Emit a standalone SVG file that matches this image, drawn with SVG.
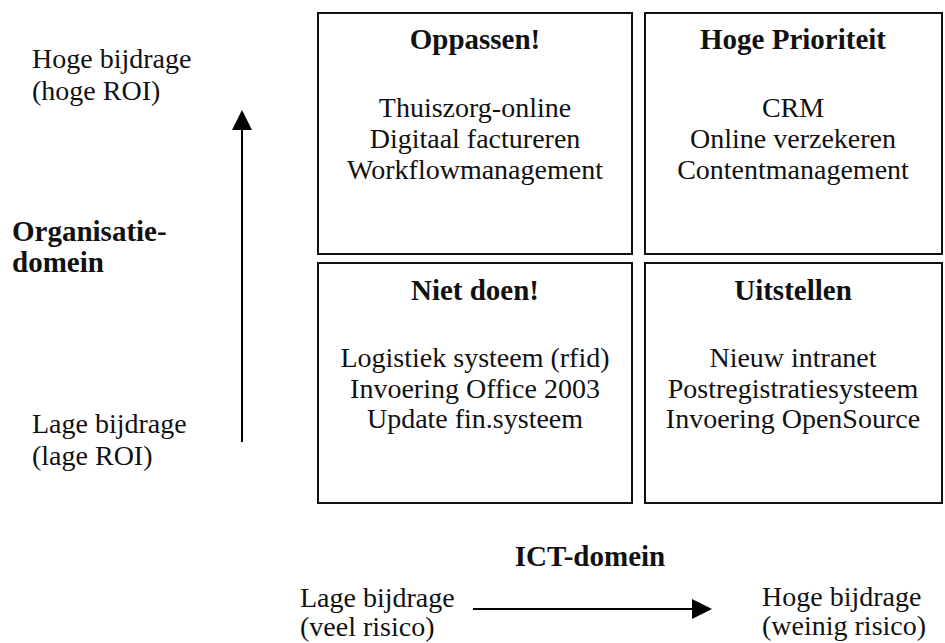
<svg xmlns="http://www.w3.org/2000/svg" width="945" height="643" viewBox="0 0 945 643">
<defs>
<style>
text{font-family:"Liberation Serif","Times New Roman",serif;font-size:28px;fill:#111}
.b{font-weight:bold;font-size:29px}
.c{text-anchor:middle}
.box{fill:#fff;stroke:#111;stroke-width:2}
.ln{stroke:#000;stroke-width:2;fill:none}
</style>
<marker id="ah" viewBox="0 0 20 20" refX="18" refY="10" markerWidth="20" markerHeight="20" markerUnits="userSpaceOnUse" orient="auto">
<path d="M0,0 L20,10 L0,20 Z" fill="#000"/>
</marker>
</defs>
<rect width="945" height="643" fill="#fff"/>
<g id="box-oppassen">
<rect class="box" x="318" y="13" width="314" height="241"/>
<text class="b c" x="475" y="49">Oppassen!</text>
<text class="c" x="475" y="117">Thuiszorg-online</text>
<text class="c" x="475" y="148">Digitaal factureren</text>
<text class="c" x="475" y="179">Workflowmanagement</text>
</g>
<g id="box-hoge-prioriteit">
<rect class="box" x="645" y="13" width="297" height="241"/>
<text class="b c" x="793" y="49">Hoge Prioriteit</text>
<text class="c" x="793" y="117">CRM</text>
<text class="c" x="793" y="148">Online verzekeren</text>
<text class="c" x="793" y="179">Contentmanagement</text>
</g>
<g id="box-niet-doen">
<rect class="box" x="318" y="263" width="314" height="240"/>
<text class="b c" x="475" y="300">Niet doen!</text>
<text class="c" x="475" y="367">Logistiek systeem (rfid)</text>
<text class="c" x="475" y="398">Invoering Office 2003</text>
<text class="c" x="475" y="428">Update fin.systeem</text>
</g>
<g id="box-uitstellen">
<rect class="box" x="645" y="263" width="297" height="240"/>
<text class="b c" x="793" y="300">Uitstellen</text>
<text class="c" x="793" y="367">Nieuw intranet</text>
<text class="c" x="793" y="398">Postregistratiesysteem</text>
<text class="c" x="793" y="428">Invoering OpenSource</text>
</g>
<g id="labels">
<text x="32" y="68">Hoge bijdrage</text>
<text x="32" y="100">(hoge ROI)</text>
<text class="b" x="12" y="241">Organisatie-</text>
<text class="b" x="12" y="272">domein</text>
<text x="32" y="433">Lage bijdrage</text>
<text x="32" y="465">(lage ROI)</text>
<text class="b c" x="590" y="566">ICT-domein</text>
<text x="300" y="607">Lage bijdrage</text>
<text x="300" y="636">(veel risico)</text>
<text x="762" y="606">Hoge bijdrage</text>
<text x="762" y="635">(weinig risico)</text>
</g>
<g id="connectors">
<line class="ln" x1="242" y1="442" x2="242" y2="112" marker-end="url(#ah)"/>
<line class="ln" x1="473" y1="609" x2="710" y2="609" marker-end="url(#ah)"/>
</g>
</svg>
